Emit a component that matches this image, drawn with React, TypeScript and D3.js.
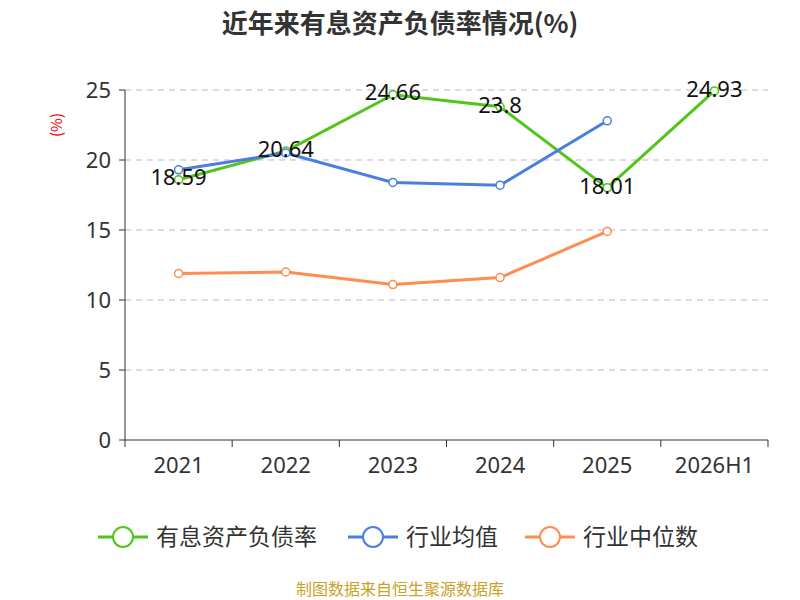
import React from 'react';
import * as d3 from 'd3';

const categories = ['2021', '2022', '2023', '2024', '2025', '2026H1'];
const debtRatio = [18.59, 20.64, 24.66, 23.8, 18.01, 24.93];
const industryAvg = [19.3, 20.5, 18.4, 18.2, 22.8, null];
const industryMedian = [11.9, 12.0, 11.1, 11.6, 14.9, null];
const yTicks = [0, 5, 10, 15, 20, 25];

const series = [
  { name: '有息资产负债率', values: debtRatio, color: '#52c41a' },
  { name: '行业均值', values: industryAvg, color: '#4a7fe0' },
  { name: '行业中位数', values: industryMedian, color: '#ff8c50' },
];

const font = '"Noto Sans CJK SC", "Noto Sans", sans-serif';

const App: React.FC = () => {
  const left = 125, right = 768, top = 90, bottom = 440;
  const x = d3.scaleBand<string>().domain(categories).range([left, right]);
  const y = d3.scaleLinear().domain([0, 25]).range([bottom, top]);
  const cx = (c: string) => (x(c) ?? 0) + x.bandwidth() / 2;
  const line = d3.line<number | null>()
    .defined(d => d != null)
    .x((_, i) => cx(categories[i]))
    .y(d => y(d as number));

  return (
    <svg width={800} height={600} style={{ position: 'absolute', left: 0, top: 0, fontFamily: font }}>
      <rect width={800} height={600} fill="#fff" />
      <text x={400} y={33} textAnchor="middle" fontSize={26} fontWeight="bold" fill="#333">近年来有息资产负债率情况(%)</text>
      <text transform="translate(62,125) rotate(-90)" textAnchor="middle" fontSize={15} fill="#e00">(%)</text>
      {yTicks.map(t => (
        <g key={t}>
          {t > 0 && <line x1={left} x2={right} y1={y(t)} y2={y(t)} stroke="#bbb" strokeDasharray="6,5" />}
          <line x1={left - 6} x2={left} y1={y(t)} y2={y(t)} stroke="#333" />
          <text x={left - 14} y={y(t)} dy="0.35em" textAnchor="end" fontSize={22} fontFamily="Noto Sans" fill="#333">{t}</text>
        </g>
      ))}
      <line x1={left} x2={left} y1={top} y2={bottom} stroke="#333" />
      <line x1={left} x2={right} y1={bottom} y2={bottom} stroke="#333" />
      {d3.range(categories.length + 1).map(i => {
        const xx = left + i * x.bandwidth();
        return <line key={i} x1={xx} x2={xx} y1={bottom} y2={bottom + 7} stroke="#333" />;
      })}
      {categories.map(c => (
        <text key={c} x={cx(c)} y={bottom + 33} textAnchor="middle" fontSize={22} fontFamily="Noto Sans" fill="#333">{c}</text>
      ))}
      {series.map(s => (
        <g key={s.name}>
          <path d={line(s.values) ?? ''} fill="none" stroke={s.color} strokeWidth={3} />
          {s.values.map((v, i) => v == null ? null : (
            <circle key={i} cx={cx(categories[i])} cy={y(v)} r={4} fill="#fff" stroke={s.color} strokeWidth={1.5} />
          ))}
        </g>
      ))}
      {debtRatio.map((v, i) => (
        <text key={i} x={cx(categories[i])} y={y(v) - 2} dy="0.35em"
          textAnchor="middle" fontSize={22} fontFamily="Noto Sans" fill="#111">{v}</text>
      ))}
      {series.map((s, i) => {
        const lx = [98, 348, 525][i];
        return (
          <g key={s.name}>
            <line x1={lx} x2={lx + 50} y1={537} y2={537} stroke={s.color} strokeWidth={3} />
            <circle cx={lx + 25} cy={537} r={10} fill="#fff" stroke={s.color} strokeWidth={2} />
            <text x={lx + 58} y={537} dy="0.35em" fontSize={23} fill="#333">{s.name}</text>
          </g>
        );
      })}
      <text x={400} y={595} textAnchor="middle" fontSize={16} fill="#c9a227">制图数据来自恒生聚源数据库</text>
    </svg>
  );
};

export default App;
